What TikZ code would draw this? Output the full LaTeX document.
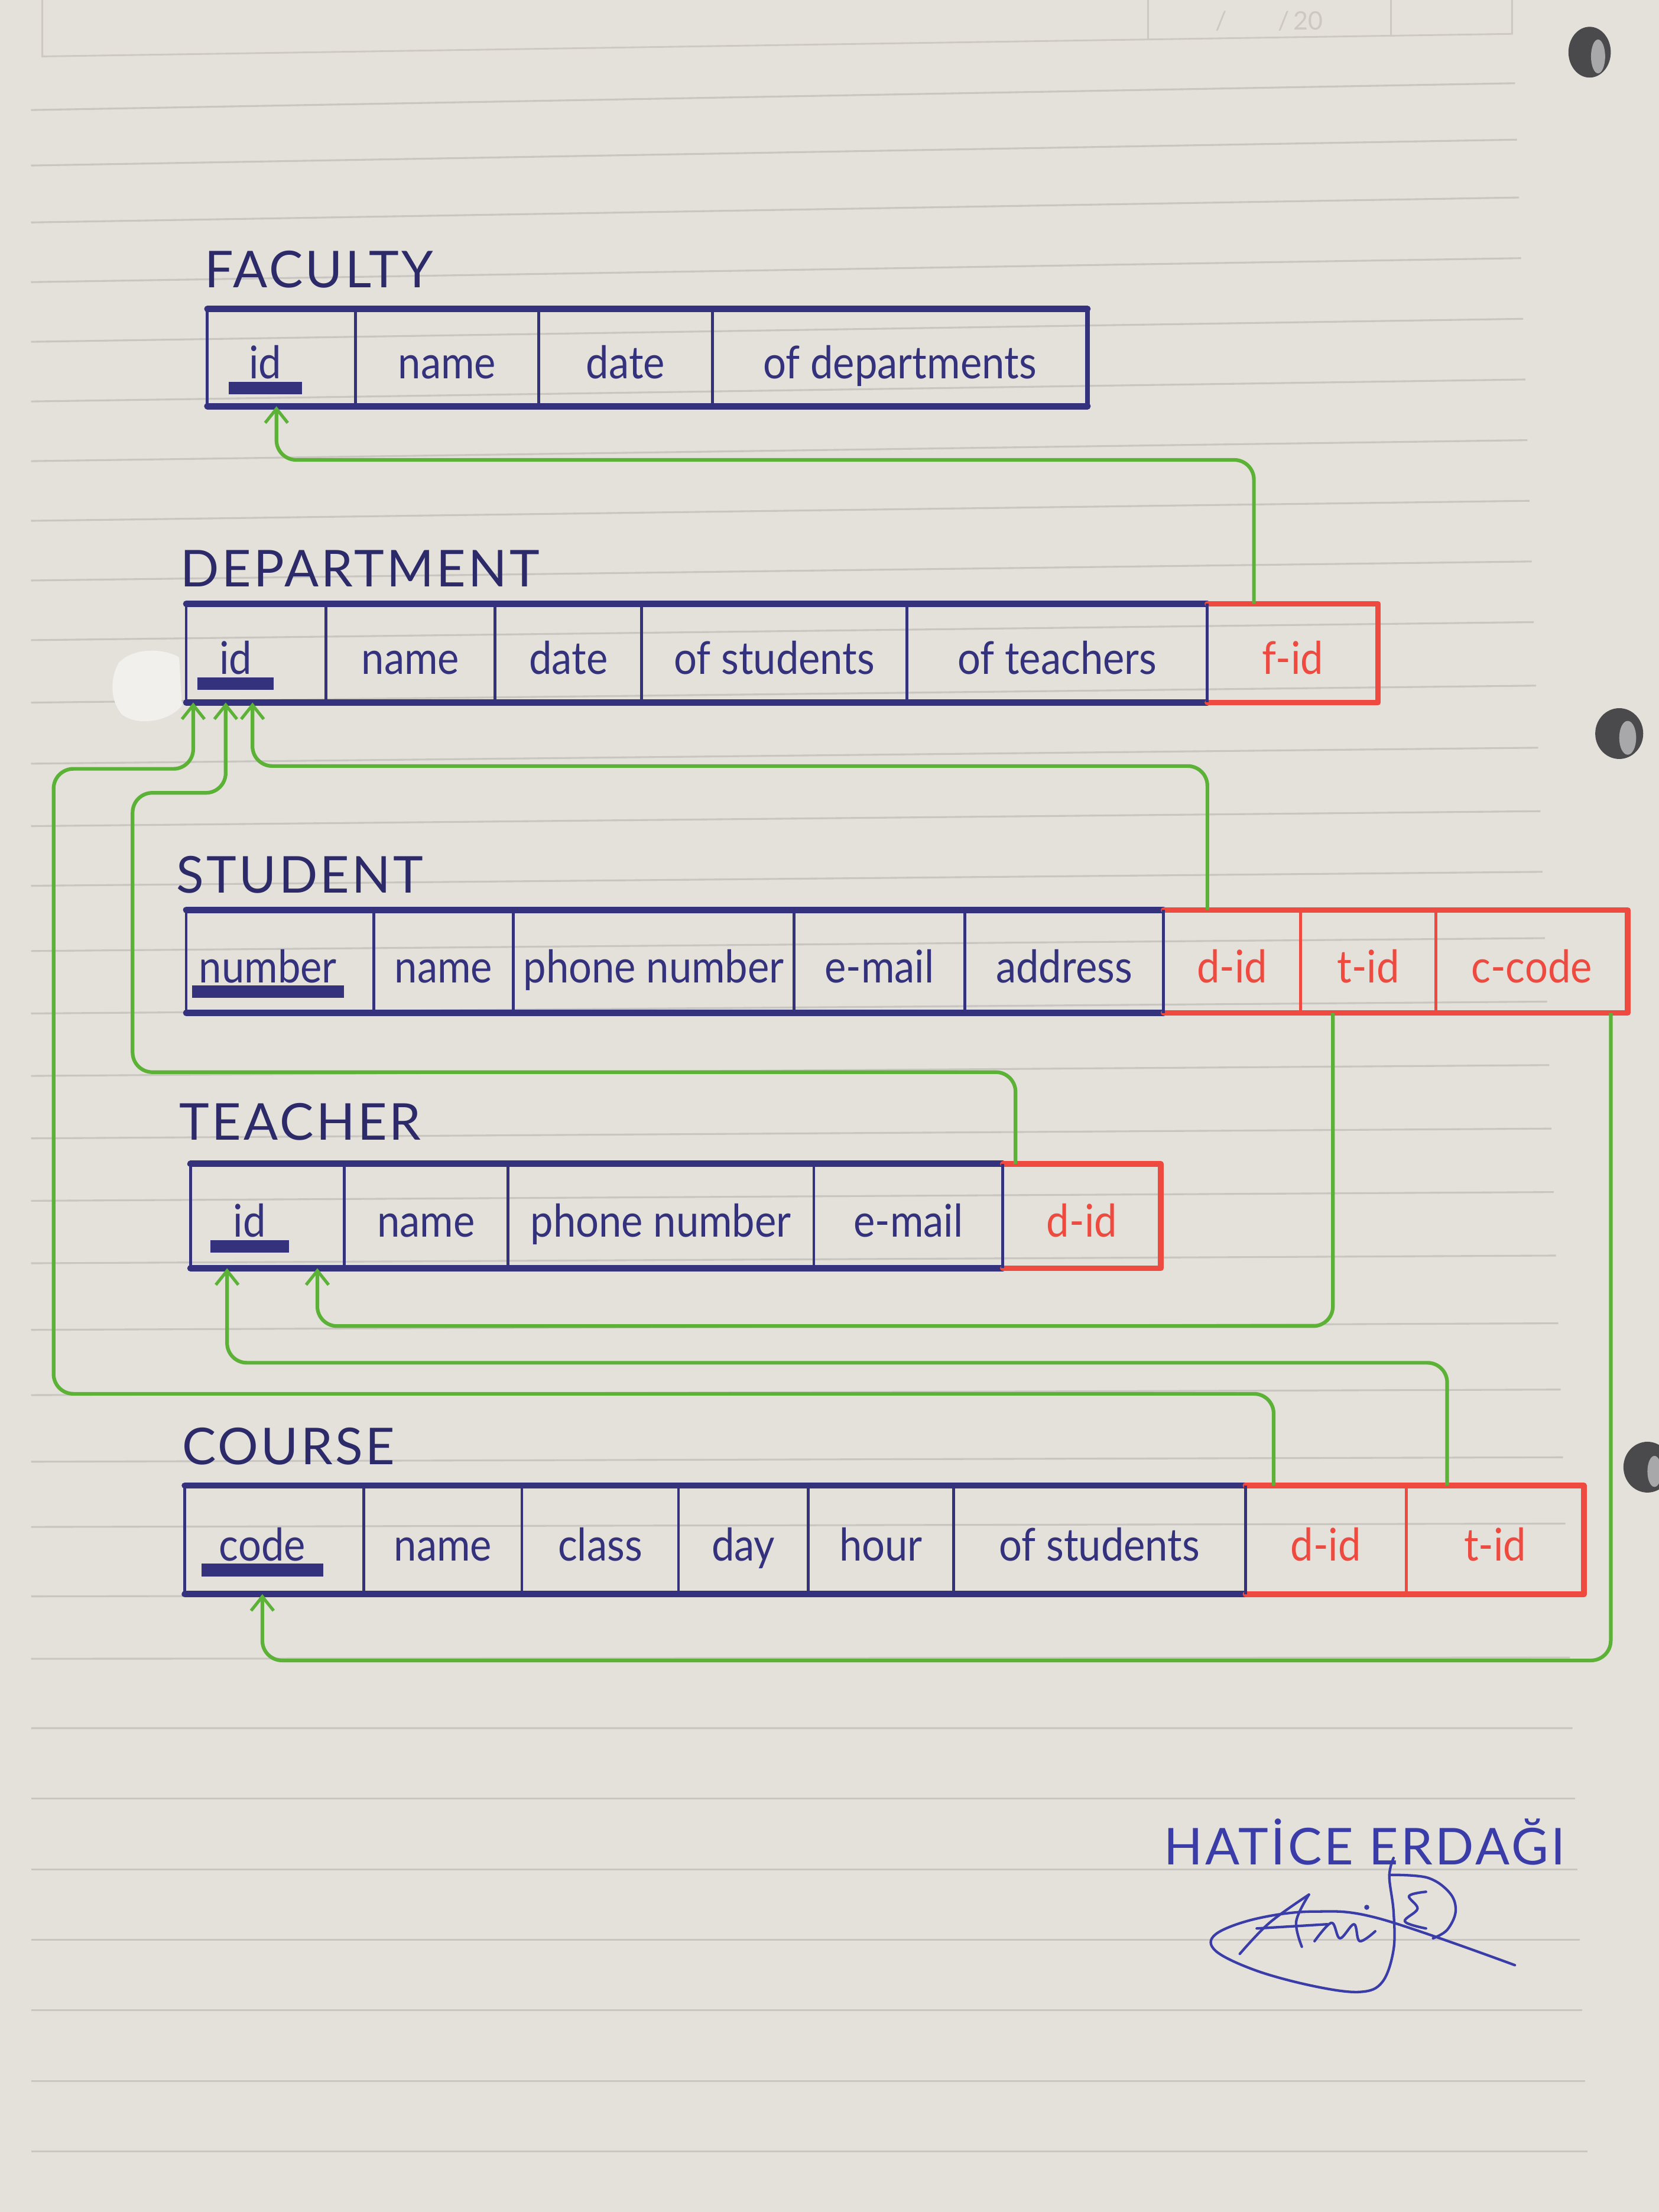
\documentclass[tikz,border=0pt]{standalone}
\usepackage{fontspec}
\setmainfont{Lato}[FakeStretch=0.9]
\newfontfamily\titlefont{Lato}[LetterSpace=5]
\newfontfamily\faintfont{Lato}
\usetikzlibrary{arrows.meta,calc}
\definecolor{paper}{HTML}{E4E1DB}
\definecolor{rulecol}{HTML}{C9C6C2}
\definecolor{ink}{HTML}{34327C}
\definecolor{inkdark}{HTML}{2C2A68}
\definecolor{redink}{HTML}{EE4A3F}
\definecolor{greenink}{HTML}{5BB236}
\definecolor{sigink}{HTML}{3A3DA8}
\definecolor{faintcol}{HTML}{CDC8C1}
\definecolor{holedark}{HTML}{4A4A4C}
\definecolor{holelight}{HTML}{A8A8AA}
\definecolor{tearwhite}{HTML}{F1F0EC}
\newcommand\mkcell[7]{\node[cellbase, text=#7, minimum width={(#3)-(#2)}, minimum height={(#5)-(#4)}] (#1) at ({((#2)+(#3))/2},{((#4)+(#5))/2}) {#6};}
\newcommand\pkbar[2]{\fill[ink] ($(#1.base)+(-#2,2)$) rectangle ($(#1.base)+(#2,11)$);}
\begin{document}
\begin{tikzpicture}[x=1pt,y=-1pt,
  cellbase/.style={inner sep=0pt, outer sep=0pt, text height=32pt, text depth=2pt, font=\fontsize{32}{36}\selectfont},
  title/.style={anchor=base west, inner sep=0pt, text=inkdark, font={\titlefont\fontsize{36}{40}\selectfont}},
  bedge/.style={draw=ink, line width=4.5pt, line cap=round},
  bdiv/.style={draw=ink, line width=2pt},
  redge/.style={draw=redink, line width=4pt, line cap=round, line join=round},
  rdiv/.style={draw=redink, line width=2pt},
  fk/.style={draw=greenink, line width=2.6pt, rounded corners=14pt, -{Straight Barb[length=10pt,width=16pt,line width=2.2pt]}},
  ruled/.style={draw=rulecol, line width=1.3pt},
  sigpen/.style={draw=sigink, line width=1.8pt, line cap=round, line join=round}]
\useasboundingbox (0,0) rectangle (1176,1568);
\fill[paper] (0,0) rectangle (1176,1568);
% ruled paper
\foreach \yy in {59,99,140,183,226,269,312,355,398,441,486,530,575,618,665,710,755,800,845,890,938,985,1033,1080,1130,1175,1225,1275,1325,1375,1425,1475,1525} {
  \pgfmathsetmacro\sl{max(0,19*(1-(\yy-59)/1167))}
  \pgfmathsetmacro\xr{1072+0.035*\yy}
  \draw[ruled] (22,{\yy+\sl}) -- (\xr,\yy);
}
% faint printed header
\draw[draw=faintcol, line width=1.2pt] (30,0) -- (30,40) -- (1072,24) -- (1072,0);
\draw[draw=faintcol, line width=1.2pt] (814,0) -- (814,28.5);
\draw[draw=faintcol, line width=1.2pt] (986,0) -- (986,25.7);
\node[text=faintcol, font={\faintfont\fontsize{18}{20}\selectfont}, inner sep=0pt] (hdr) at (900,15) {/\hspace{36pt}/\,20};
% punched holes
\fill[holedark] (1127,37) ellipse (15 and 18);
\fill[holelight] (1133,40) ellipse (5 and 12);
\fill[holedark] (1148,520) ellipse (17 and 18);
\fill[holelight] (1154,523) ellipse (6 and 12);
\fill[holedark] (1168,1040) ellipse (17 and 18);
\fill[holelight] (1173,1043) ellipse (5 and 11);
% torn patch
\fill[tearwhite] (84,470) .. controls (95,458) and (118,460) .. (127,466) -- (129,500) .. controls (120,512) and (96,515) .. (86,506) .. controls (78,496) and (78,481) .. (84,470);
% titles
\node[title] (tfac) at (145,204) {FACULTY};
\node[title] (tdep) at (128,416) {DEPARTMENT};
\node[title] (tstu) at (125,633) {STUDENT};
\node[title] (ttea) at (127,808) {TEACHER};
\node[title] (tcou) at (129,1038) {COURSE};
% FACULTY
\mkcell{fac1}{147}{252}{219}{288}{}{ink}
\mkcell{fac2}{252}{382}{219}{288}{name}{ink}
\mkcell{fac3}{382}{505}{219}{288}{date}{ink}
\mkcell{fac4}{505}{771}{219}{288}{of departments}{ink}
\node[cellbase, text=ink] (fac1t) at ([xshift=-11.5pt]fac1.center) {id};
\draw[bedge] (fac1.north west) -- (fac4.north east);
\draw[bedge] (fac1.south west) -- (fac4.south east);
\foreach \c in {fac1,fac2,fac3,fac4} \draw[bdiv] (\c.north west) -- (\c.south west);
\draw[bdiv, line width=3pt] (fac4.north east) -- (fac4.south east);
\pkbar{fac1t}{26}
% DEPARTMENT
\mkcell{dep1}{132}{231}{428}{498}{}{ink}
\mkcell{dep2}{231}{351}{428}{498}{name}{ink}
\mkcell{dep3}{351}{455}{428}{498}{date}{ink}
\mkcell{dep4}{455}{643}{428}{498}{of students}{ink}
\mkcell{dep5}{643}{856}{428}{498}{of teachers}{ink}
\mkcell{dep6}{856}{977}{428}{498}{f-id}{redink}
\node[cellbase, text=ink] (dep1t) at ([xshift=-14.5pt]dep1.center) {id};
\draw[bedge] (dep1.north west) -- (dep5.north east);
\draw[bedge] (dep1.south west) -- (dep5.south east);
\draw[redge] (dep6.north west) -- (dep6.north east) -- (dep6.south east) -- (dep6.south west);
\foreach \c in {dep1,dep2,dep3,dep4,dep5,dep6} \draw[bdiv] (\c.north west) -- (\c.south west);
\pkbar{dep1t}{27}
% STUDENT
\mkcell{stu1}{132}{265}{645}{718}{}{ink}
\mkcell{stu2}{265}{364}{645}{718}{name}{ink}
\mkcell{stu3}{364}{563}{645}{718}{phone number}{ink}
\mkcell{stu4}{563}{684}{645}{718}{e-mail}{ink}
\mkcell{stu5}{684}{825}{645}{718}{address}{ink}
\mkcell{stu6}{825}{922}{645}{718}{d-id}{redink}
\mkcell{stu7}{922}{1018}{645}{718}{t-id}{redink}
\mkcell{stu8}{1018}{1154}{645}{718}{c-code}{redink}
\node[cellbase, text=ink] (stu1t) at ([xshift=-8.5pt]stu1.center) {number};
\draw[bedge] (stu1.north west) -- (stu5.north east);
\draw[bedge] (stu1.south west) -- (stu5.south east);
\draw[redge] (stu6.north west) -- (stu8.north east) -- (stu8.south east) -- (stu6.south west);
\foreach \c in {stu7,stu8} \draw[rdiv] (\c.north west) -- (\c.south west);
\foreach \c in {stu1,stu2,stu3,stu4,stu5,stu6} \draw[bdiv] (\c.north west) -- (\c.south west);
\pkbar{stu1t}{54}
% TEACHER
\mkcell{tea1}{135}{244}{825}{899}{}{ink}
\mkcell{tea2}{244}{360}{825}{899}{name}{ink}
\mkcell{tea3}{360}{577}{825}{899}{phone number}{ink}
\mkcell{tea4}{577}{711}{825}{899}{e-mail}{ink}
\mkcell{tea5}{711}{823}{825}{899}{d-id}{redink}
\node[cellbase, text=ink] (tea1t) at ([xshift=-12.5pt]tea1.center) {id};
\draw[bedge] (tea1.north west) -- (tea4.north east);
\draw[bedge] (tea1.south west) -- (tea4.south east);
\draw[redge] (tea5.north west) -- (tea5.north east) -- (tea5.south east) -- (tea5.south west);
\foreach \c in {tea1,tea2,tea3,tea4,tea5} \draw[bdiv] (\c.north west) -- (\c.south west);
\pkbar{tea1t}{28}
% COURSE
\mkcell{cou1}{131}{258}{1053}{1130}{}{ink}
\mkcell{cou2}{258}{370}{1053}{1130}{name}{ink}
\mkcell{cou3}{370}{481}{1053}{1130}{class}{ink}
\mkcell{cou4}{481}{573}{1053}{1130}{day}{ink}
\mkcell{cou5}{573}{676}{1053}{1130}{hour}{ink}
\mkcell{cou6}{676}{883}{1053}{1130}{of students}{ink}
\mkcell{cou7}{883}{997}{1053}{1130}{d-id}{redink}
\mkcell{cou8}{997}{1123}{1053}{1130}{t-id}{redink}
\node[cellbase, text=ink] (cou1t) at ([xshift=-8.5pt]cou1.center) {code};
\draw[bedge] (cou1.north west) -- (cou6.north east);
\draw[bedge] (cou1.south west) -- (cou6.south east);
\draw[redge] (cou7.north west) -- (cou8.north east) -- (cou8.south east) -- (cou7.south west);
\draw[rdiv] (cou8.north west) -- (cou8.south west);
\foreach \c in {cou1,cou2,cou3,cou4,cou5,cou6,cou7} \draw[bdiv] (\c.north west) -- (\c.south west);
\pkbar{cou1t}{43}
% connectors (foreign keys)
\draw[fk] ([xshift=-27.5pt]dep6.north) -- ++(0,-102) -| ([xshift=-3.5pt]fac1.south);
\draw[fk] ([xshift=-17.5pt]stu6.north) -- ++(0,-102) -| ([xshift=-2.5pt]dep1.south);
\draw[fk] ([xshift=-47pt]tea5.north) -- ++(0,-65) -- ++(-626,0) -- ++(0,-198) -| ([xshift=-21.5pt]dep1.south);
\draw[fk] ([xshift=-37pt]cou7.north) -- ++(0,-65) -- ++(-865,0) -- ++(0,-443) -| ([xshift=-44.5pt]dep1.south);
\draw[fk] ([xshift=-25pt]stu7.south) -- ++(0,222) -| ([xshift=35.5pt]tea1.south);
\draw[fk] ([xshift=-34pt]cou8.north) -- ++(0,-87) -| ([xshift=-28.5pt]tea1.south);
\draw[fk] ([xshift=56pt]stu8.south) -- ++(0,459) -| ([xshift=-8.5pt]cou1.south);
% signature
\node[anchor=base west, inner sep=0pt, text=sigink, font={\titlefont\fontsize{36}{40}\selectfont}] (signame) at (825,1322) {HATİCE ERDAĞI};
\draw[sigpen] plot[smooth, tension=0.6] coordinates {(988,1317) (985,1330) (988,1355) (988,1382) (980,1405) (964,1412) (932,1408) (891,1397) (862,1383) (862,1371) (891,1360) (932,1355) (978,1360) (1074,1393)};
\draw[sigpen] plot[smooth, tension=0.6] coordinates {(985,1329) (1012,1331) (1028,1342) (1032,1355) (1026,1368) (1016,1374)};
\draw[sigpen] plot[smooth, tension=0.6] coordinates {(1011,1341) (999,1344) (1005,1353) (996,1362) (1011,1367)};
\draw[sigpen] plot[smooth, tension=0.6] coordinates {(879,1385) (900,1363) (928,1343)};
\draw[sigpen] plot[smooth, tension=0.6] coordinates {(928,1343) (919,1362) (923,1380)};
\draw[sigpen] (891,1367) -- (941,1364);
\draw[sigpen] plot[smooth, tension=0.6] coordinates {(932,1376) (944,1363) (950,1374) (960,1364) (964,1376) (975,1369)};
\fill[sigink] (969,1352) circle (1.8);
\end{tikzpicture}
\end{document}
